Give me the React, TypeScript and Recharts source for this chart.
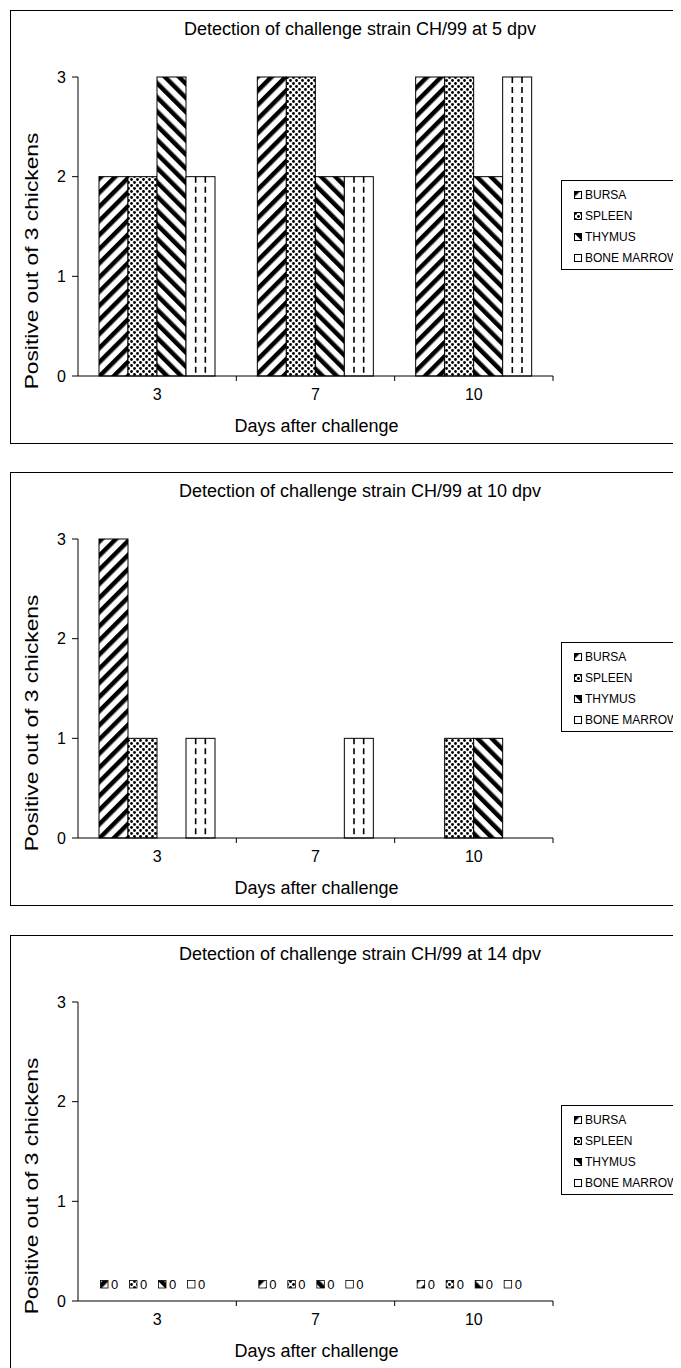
import React from "react";
import { BarChart, Bar, XAxis, YAxis } from "recharts";

const days = ["3", "7", "10"];
const organs = ["BURSA", "SPLEEN", "THYMUS", "BONE MARROW"];
const keys = ["bursa", "spleen", "thymus", "marrow"];
const yTicks = [0, 1, 2, 3];

// 5 dpv
const bursa5 = [2, 3, 3];
const spleen5 = [2, 3, 3];
const thymus5 = [3, 2, 2];
const marrow5 = [2, 2, 3];

// 10 dpv
const bursa10 = [3, 0, 0];
const spleen10 = [1, 0, 1];
const thymus10 = [0, 0, 1];
const marrow10 = [1, 1, 0];

// 14 dpv
const bursa14 = [0, 0, 0];
const spleen14 = [0, 0, 0];
const thymus14 = [0, 0, 0];
const marrow14 = [0, 0, 0];

const FONT = '"Liberation Sans", Arial, sans-serif';
const W = 700;
const H = 434;
const PLOT_LEFT = 68;
const PLOT_RIGHT = 543;
const PLOT_TOP = 67;
const PLOT_BOTTOM = 366;
const BAND = (PLOT_RIGHT - PLOT_LEFT) / days.length;

function makeRows(b: number[], s: number[], t: number[], m: number[]) {
  return days.map((d, i) => ({ day: d, bursa: b[i], spleen: s[i], thymus: t[i], marrow: m[i] }));
}

function Patterns({ pre }: { pre: string }) {
  return (
    <defs>
      <pattern id={`${pre}-bursa`} patternUnits="userSpaceOnUse" width={10} height={10} patternTransform="rotate(45)">
        <rect width={10} height={10} fill="#fff" />
        <rect x={0} y={0} width={4.5} height={10} fill="#000" />
      </pattern>
      <pattern id={`${pre}-spleen`} patternUnits="userSpaceOnUse" width={6} height={6}>
        <rect width={6} height={6} fill="#fff" />
        <circle cx={1.5} cy={1.5} r={1.4} fill="#000" />
        <circle cx={4.5} cy={4.5} r={1.4} fill="#000" />
      </pattern>
      <pattern id={`${pre}-thymus`} patternUnits="userSpaceOnUse" width={10} height={10} patternTransform="rotate(-45)">
        <rect width={10} height={10} fill="#fff" />
        <rect x={0} y={0} width={4.5} height={10} fill="#000" />
      </pattern>
      <pattern id={`${pre}-marrow`} patternUnits="userSpaceOnUse" width={8} height={8}>
        <rect width={8} height={8} fill="#fff" />
      </pattern>
    </defs>
  );
}

// one shape for every series, so that zero-value bars are still handed to the shape
const barShape = (pre: string, k: string, zeroLabels?: boolean) => (p: any) => {
  const { x, y, width, height, value } = p;
  const cx = x + width / 2;
  const base = y + height;
  return (
    <g>
      {height > 0 && (
        <rect x={x} y={y} width={width} height={height} fill={k === "marrow" ? "#fff" : `url(#${pre}-${k})`} stroke="#000" />
      )}
      {height > 0 && k === "marrow" && (
        <>
          <line x1={x + width / 3} x2={x + width / 3} y1={y} y2={base} stroke="#000" strokeWidth={1.6} strokeDasharray="6 4" />
          <line x1={x + (2 * width) / 3} x2={x + (2 * width) / 3} y1={y} y2={base} stroke="#000" strokeWidth={1.6} strokeDasharray="6 4" />
        </>
      )}
      {zeroLabels && (
        <g>
          <rect x={cx - 13} y={base - 20.5} width={7.5} height={7.5} fill={`url(#${pre}-${k})`} stroke="#000" strokeWidth={0.8} />
          <text x={cx - 2.5} y={base - 12} fontSize={13} fill="#000" fontFamily={FONT}>
            {Array.isArray(value) ? value[1] - value[0] : value ?? 0}
          </text>
        </g>
      )}
    </g>
  );
};

const XTick = (p: any) => {
  const { x, y, payload } = p;
  return (
    <g>
      <text x={x} y={y + 24} textAnchor="middle" fontSize={16} fill="#000" fontFamily={FONT}>
        {payload.value}
      </text>
      <line x1={x + BAND / 2} x2={x + BAND / 2} y1={y} y2={y + 5} stroke="#000" />
    </g>
  );
};

function LegendIcon({ k, pre }: { k: string; pre: string }) {
  return (
    <svg width={8} height={8} style={{ display: "block" }}>
      <Patterns pre={pre} />
      <rect x={0.5} y={0.5} width={7} height={7} fill={`url(#${pre}-${k})`} stroke="#000" />
    </svg>
  );
}

function Panel({ id, top, title, rows, zeroLabels }: { id: string; top: number; title: string; rows: any[]; zeroLabels?: boolean }) {
  return (
    <div
      style={{
        position: "absolute",
        left: 2,
        top,
        width: W,
        height: H,
        border: "1px solid #000",
        boxSizing: "border-box",
        background: "#fff",
      }}
    >
      <div style={{ position: "absolute", left: 0, width: 698, top: 8, textAlign: "center", fontSize: 18 }}>{title}</div>
      <div
        style={{
          position: "absolute",
          left: 21,
          top: 250,
          transform: "translate(-50%, -50%) scaleY(1.3) rotate(-90deg)",
          whiteSpace: "nowrap",
          fontSize: 17.5,
        }}
      >
        Positive out of 3 chickens
      </div>
      <div
        style={{
          position: "absolute",
          left: PLOT_LEFT - 20,
          width: PLOT_RIGHT - PLOT_LEFT + 40,
          top: PLOT_BOTTOM + 39,
          textAlign: "center",
          fontSize: 18,
        }}
      >
        Days after challenge
      </div>
      <BarChart
        width={W}
        height={H}
        data={rows}
        margin={{ top: PLOT_TOP, right: W - PLOT_RIGHT, bottom: H - PLOT_BOTTOM - 40, left: 0 }}
        barCategoryGap={21}
        barGap={0}
        style={{ position: "absolute", left: -1, top: -1 }}
      >
        <Patterns pre={id} />
        <XAxis
          dataKey="day"
          height={40}
          tickSize={0}
          tickMargin={0}
          tickLine={false}
          axisLine={{ stroke: "#000" }}
          tick={<XTick />}
          interval={0}
        />
        <YAxis
          width={PLOT_LEFT}
          domain={[0, 3]}
          ticks={yTicks}
          tickSize={6}
          tickMargin={6}
          axisLine={{ stroke: "#000" }}
          tickLine={{ stroke: "#000" }}
          tick={{ fill: "#000", fontSize: 16, fontFamily: FONT }}
        />
        {keys.map((k, i) => (
          <Bar
            key={k}
            dataKey={k}
            name={organs[i]}
            fill={`url(#${id}-${k})`}
            stroke="#000"
            strokeWidth={1}
            isAnimationActive={false}
            shape={barShape(id, k, zeroLabels)}
          />
        ))}
      </BarChart>
      <div
        style={{
          position: "absolute",
          left: 550,
          top: 169,
          width: 160,
          height: 90,
          border: "1px solid #000",
          boxSizing: "border-box",
          paddingTop: 3,
        }}
      >
        {keys.map((k, i) => (
          <div key={k} style={{ display: "flex", alignItems: "center", height: 21, paddingLeft: 12, fontSize: 12 }}>
            <LegendIcon k={k} pre={`${id}-lg${i}`} />
            <span style={{ marginLeft: 3 }}>{organs[i]}</span>
          </div>
        ))}
      </div>
    </div>
  );
}

export default function App() {
  return (
    <div style={{ position: "relative", width: 673, height: 1360, overflow: "hidden", fontFamily: FONT, color: "#000" }}>
      <Panel id="p5" top={2} title="Detection of challenge strain CH/99 at 5 dpv" rows={makeRows(bursa5, spleen5, thymus5, marrow5)} />
      <Panel id="p10" top={464} title="Detection of challenge strain CH/99 at 10 dpv" rows={makeRows(bursa10, spleen10, thymus10, marrow10)} />
      <Panel
        id="p14"
        top={927}
        title="Detection of challenge strain CH/99 at 14 dpv"
        rows={makeRows(bursa14, spleen14, thymus14, marrow14)}
        zeroLabels
      />
    </div>
  );
}
